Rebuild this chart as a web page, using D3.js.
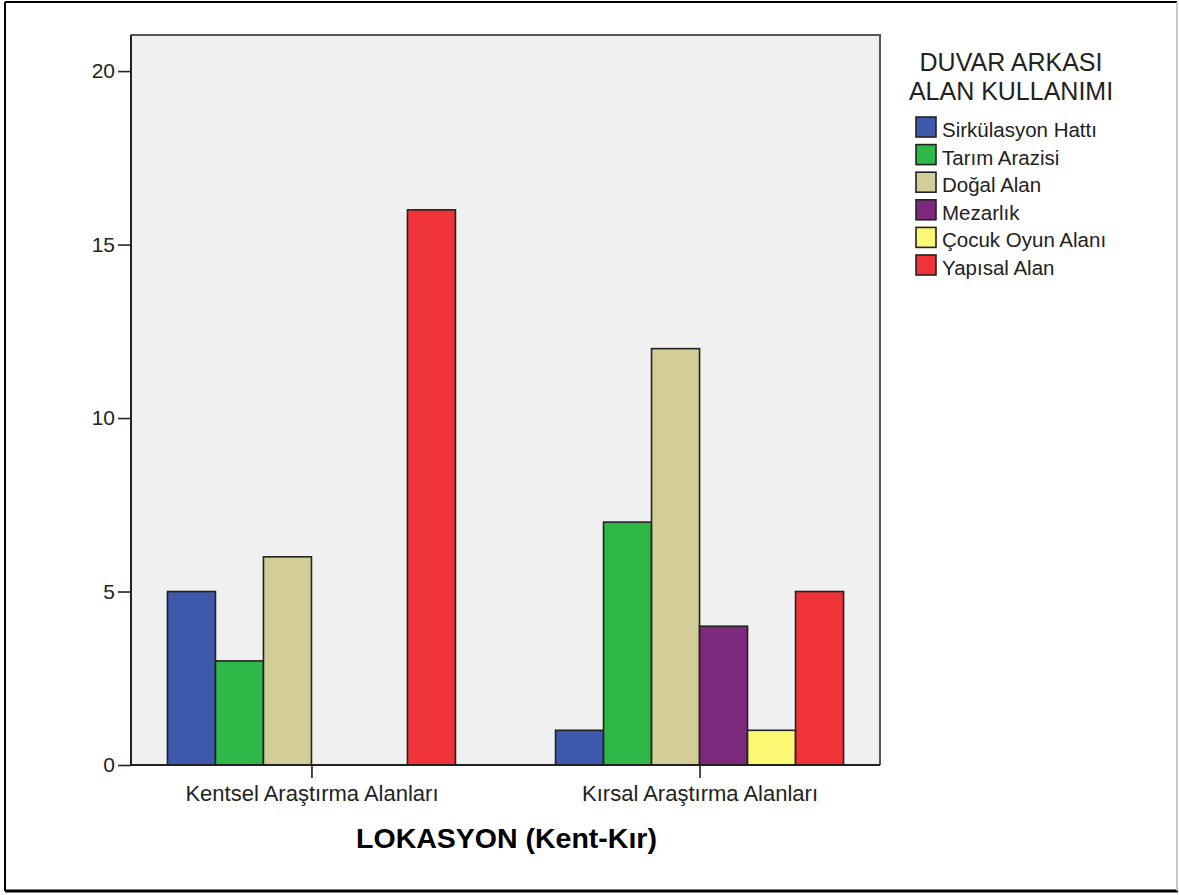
<!DOCTYPE html>
<html>
<head>
<meta charset="utf-8">
<script src="https://cdn.jsdelivr.net/npm/d3@7"></script>
<style>
  html, body { margin: 0; padding: 0; background: #fff; }
  svg { display: block; font-family: Arial, "Liberation Sans", sans-serif; }
</style>
</head>
<body>
<svg id="chart" width="1179" height="895"></svg>
<script>
// Locations on the x axis
const categories = ["Kentsel Araştırma Alanları", "Kırsal Araştırma Alanları"];
// Wall-backing land-use series
const seriesNames = ["Sirkülasyon Hattı", "Tarım Arazisi", "Doğal Alan", "Mezarlık", "Çocuk Oyun Alanı", "Yapısal Alan"];
const seriesColors = ["#3e58ac", "#2eb848", "#d3ce97", "#7c287d", "#fbf873", "#ef3338"];
// Counts per series, one entry per location
const sirkulasyon = [5, 1];
const tarim = [3, 7];
const dogal = [6, 12];
const mezarlik = [0, 4];
const cocuk = [0, 1];
const yapisal = [16, 5];
const yTicks = [0, 5, 10, 15, 20];

const seriesValues = [sirkulasyon, tarim, dogal, mezarlik, cocuk, yapisal];

const svg = d3.select("#chart");

// Outer frame
svg.append("line").attr("x1", 5).attr("y1", 2).attr("x2", 1177).attr("y2", 2).attr("stroke", "#000").attr("stroke-width", 2);
svg.append("line").attr("x1", 5).attr("y1", 2).attr("x2", 5).attr("y2", 891).attr("stroke", "#000").attr("stroke-width", 2);
svg.append("line").attr("x1", 5).attr("y1", 891).attr("x2", 1178).attr("y2", 891).attr("stroke", "#000").attr("stroke-width", 3);
svg.append("line").attr("x1", 1177).attr("y1", 2).attr("x2", 1177).attr("y2", 891).attr("stroke", "#bbb").attr("stroke-width", 1.5);

const plot = { left: 131, right: 880, top: 35, bottom: 765 };

const x = d3.scalePoint().domain(categories).range([plot.left, plot.right]).padding(0.465);
const groupWidth = 288;
const xInner = d3.scaleBand().domain(seriesNames).range([-groupWidth / 2, groupWidth / 2]);
const y = d3.scaleLinear().domain([0, 21.04]).range([plot.bottom, plot.top]);

// Plot background
svg.append("rect")
  .attr("x", plot.left).attr("y", plot.top)
  .attr("width", plot.right - plot.left).attr("height", plot.bottom - plot.top)
  .attr("fill", "#f0f0f0");

// Bars
const barData = [];
categories.forEach((c, ci) => {
  seriesNames.forEach((s, si) => {
    const v = seriesValues[si][ci];
    if (v > 0) barData.push({ c, s, v, color: seriesColors[si] });
  });
});

svg.append("g").selectAll("rect").data(barData).join("rect")
  .attr("x", d => x(d.c) + xInner(d.s))
  .attr("y", d => y(d.v))
  .attr("width", xInner.bandwidth())
  .attr("height", d => y(0) - y(d.v))
  .attr("fill", d => d.color)
  .attr("stroke", "#222")
  .attr("stroke-width", 1.6);

// Plot border (top and right)
svg.append("path")
  .attr("d", `M${plot.left},${plot.top}H${plot.right}V${plot.bottom}`)
  .attr("fill", "none").attr("stroke", "#555").attr("stroke-width", 2);

// Y axis
const yAxis = svg.append("g").attr("transform", `translate(${plot.left},0)`)
  .call(d3.axisLeft(y).tickValues(yTicks).tickSize(13).tickPadding(3).tickFormat(d3.format("d")));
yAxis.select(".domain").attr("d", `M0,${plot.top}V${plot.bottom}`).attr("stroke", "#222").attr("stroke-width", 2);
yAxis.selectAll(".tick line").attr("stroke", "#222").attr("stroke-width", 1.6);
yAxis.selectAll(".tick text").attr("font-size", 21).attr("fill", "#222").attr("font-family", "Arial, 'Liberation Sans', sans-serif");

// X axis
const xAxis = svg.append("g").attr("transform", `translate(0,${plot.bottom})`)
  .call(d3.axisBottom(x).tickSize(13).tickPadding(7).tickSizeOuter(0));
xAxis.select(".domain").attr("d", `M${plot.left},0H${plot.right}`).attr("stroke", "#222").attr("stroke-width", 2);
xAxis.selectAll(".tick line").attr("stroke", "#222").attr("stroke-width", 1.6);
xAxis.selectAll(".tick text").attr("font-size", 22).attr("fill", "#222").attr("font-family", "Arial, 'Liberation Sans', sans-serif");

// X axis title
svg.append("text")
  .attr("x", (plot.left + plot.right) / 2 + 1).attr("y", 848)
  .attr("text-anchor", "middle")
  .attr("font-size", 28.5).attr("font-weight", "bold").attr("fill", "#000")
  .text("LOKASYON (Kent-Kır)");

// Legend
const legend = svg.append("g");
["DUVAR ARKASI", "ALAN KULLANIMI"].forEach((t, i) => {
  legend.append("text")
    .attr("x", 1011).attr("y", 71 + i * 28.5)
    .attr("text-anchor", "middle")
    .attr("font-size", 25).attr("fill", "#222")
    .text(t);
});
const items = legend.selectAll("g.item").data(seriesNames).join("g")
  .attr("class", "item")
  .attr("transform", (d, i) => `translate(916,${117 + i * 27.6})`);
items.append("rect")
  .attr("width", 20).attr("height", 20)
  .attr("fill", (d, i) => seriesColors[i])
  .attr("stroke", "#222").attr("stroke-width", 1.6);
items.append("text")
  .attr("x", 26).attr("y", 20)
  .attr("font-size", 20.5).attr("fill", "#222")
  .text(d => d);
</script>
</body>
</html>
